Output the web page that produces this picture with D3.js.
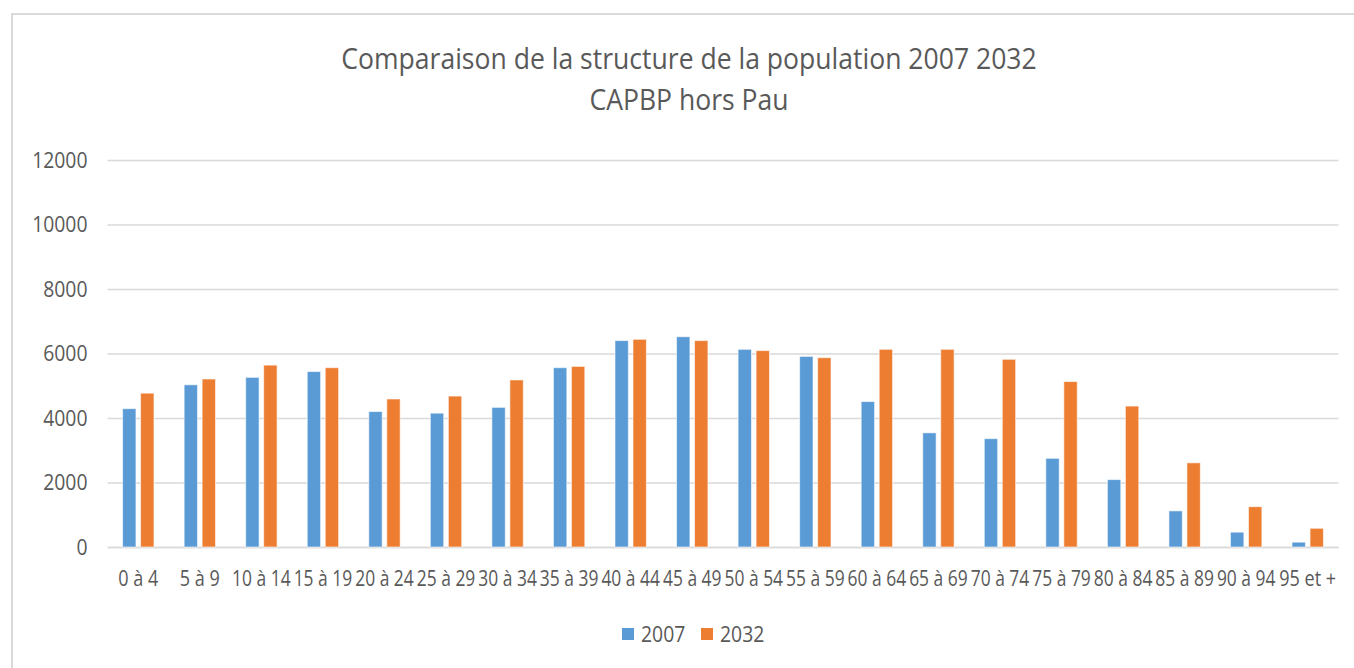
<!DOCTYPE html>
<html>
<head>
<meta charset="utf-8">
<script src="https://cdnjs.cloudflare.com/ajax/libs/d3/7.8.5/d3.min.js"></script>
<style>
    body { margin: 0; background: #fff; }
    svg text { font-family: "Open Sans", sans-serif; fill: #595959; }
</style>
</head>
<body>
<div id="chart"></div>
<script>
// tranches d'age
var categories = ["0 à 4", "5 à 9", "10 à 14", "15 à 19", "20 à 24", "25 à 29", "30 à 34",
    "35 à 39", "40 à 44", "45 à 49", "50 à 54", "55 à 59", "60 à 64", "65 à 69", "70 à 74",
    "75 à 79", "80 à 84", "85 à 89", "90 à 94", "95 et +"];
var seriesNames = ["2007", "2032"];
var values2007 = [4290, 5030, 5260, 5440, 4200, 4150, 4330, 5560, 6400, 6520,
    6130, 5910, 4510, 3540, 3360, 2750, 2090, 1120, 460, 150];
var values2032 = [4770, 5210, 5640, 5560, 4590, 4680, 5180, 5600, 6440, 6400,
    6090, 5870, 6130, 6130, 5820, 5130, 4370, 2610, 1250, 580];
var yTicks = [0, 2000, 4000, 6000, 8000, 10000, 12000];
var titleLines = ["Comparaison de la structure de la population 2007 2032", "CAPBP hors Pau"];

var width = 1354;
var height = 668;
var colors = {"2007": "#5b9bd5", "2032": "#ed7d31"};

// la police d'origine est etroite (type Calibri) : on resserre le texte
function condense(sel, f) {
    sel.each(function () {
        var w = this.getComputedTextLength() * f;
        d3.select(this)
            .attr("textLength", w)
            .attr("lengthAdjust", "spacingAndGlyphs");
    });
}

var svg = d3.select("#chart").append("svg")
    .attr("width", width)
    .attr("height", height);

// cadre du graphique (coupe a droite et en bas)
svg.append("rect")
    .attr("x", 12)
    .attr("y", 14)
    .attr("width", 1360)
    .attr("height", 680)
    .attr("fill", "#fff")
    .attr("stroke", "#d9d9d9")
    .attr("stroke-width", 2);

var plotLeft = 107.5;
var plotRight = 1338.5;
var plotTop = 160;
var plotBottom = 547;

var x0 = d3.scaleBand()
    .domain(categories)
    .range([plotLeft, plotRight])
    .paddingInner(0)
    .paddingOuter(0);

var x1 = d3.scaleBand()
    .domain(seriesNames)
    .range([-15.7, 15.7])
    .paddingInner(0.256);

var y = d3.scaleLinear()
    .domain([0, 12000])
    .range([plotBottom, plotTop]);

// titre
var title = svg.append("g").selectAll("text")
    .data(titleLines)
    .enter().append("text")
    .attr("x", 689)
    .attr("y", function (d, i) { return 69 + i * 41; })
    .attr("text-anchor", "middle")
    .style("font-size", "30px")
    .text(function (d) { return d; });
condense(title, 0.885);

// axe Y + grille
var yAxis = d3.axisLeft(y)
    .tickValues(yTicks)
    .tickSize(-(plotRight - plotLeft))
    .tickPadding(20)
    .tickFormat(d3.format("d"));

var gy = svg.append("g")
    .attr("transform", "translate(" + plotLeft + ",0)")
    .call(yAxis);
gy.select(".domain").remove();
gy.selectAll(".tick line")
    .attr("stroke", "#d9d9d9")
    .attr("stroke-width", 1.5);
gy.selectAll(".tick text")
    .attr("fill", "#595959")
    .style("font-size", "22px")
    .style("font-family", "'Open Sans', sans-serif");
condense(gy.selectAll(".tick text"), 0.88);

// axe X (les libelles se touchent presque comme dans l'original)
var xAxis = d3.axisBottom(x0).tickSize(0).tickPadding(24);
var gx = svg.append("g")
    .attr("transform", "translate(0," + plotBottom + ")")
    .call(xAxis);
gx.select(".domain").attr("stroke", "#d9d9d9").attr("stroke-width", 1.5);
gx.selectAll(".tick text")
    .attr("fill", "#595959")
    .style("font-size", "21px")
    .style("font-family", "'Open Sans', sans-serif")
    .each(function () {
        var w = this.getBBox().width;
        var f = Math.min(0.86, (x0.bandwidth() - 3) / w);
        d3.select(this).attr("transform", "scale(" + f + ",1)");
    });

// barres
var rows = categories.map(function (c, i) {
    return {cat: c, vals: [{s: "2007", v: values2007[i]}, {s: "2032", v: values2032[i]}]};
});

var groups = svg.append("g").selectAll("g")
    .data(rows)
    .enter().append("g")
    .attr("transform", function (d) {
        return "translate(" + (x0(d.cat) + x0.bandwidth() / 2) + ",0)";
    });

groups.selectAll("rect")
    .data(function (d) { return d.vals; })
    .enter().append("rect")
    .attr("x", function (d) { return x1(d.s); })
    .attr("y", function (d) { return y(d.v); })
    .attr("width", x1.bandwidth())
    .attr("height", function (d) { return y(0) - y(d.v); })
    .attr("fill", function (d) { return colors[d.s]; })
    .attr("stroke", "#fff")
    .attr("stroke-opacity", 0.6)
    .attr("stroke-width", 1);

// legende
var legend = svg.append("g").attr("transform", "translate(622,634)");
var legendX = [0, 79];
var items = legend.selectAll("g")
    .data(seriesNames)
    .enter().append("g")
    .attr("transform", function (d, i) { return "translate(" + legendX[i] + ",0)"; });
items.append("rect")
    .attr("x", 0)
    .attr("y", -6)
    .attr("width", 12)
    .attr("height", 12)
    .attr("fill", function (d) { return colors[d]; });
var legendText = items.append("text")
    .attr("x", 19)
    .attr("y", 8)
    .style("font-size", "22px")
    .text(function (d) { return d; });
condense(legendText, 0.88);
</script>
</body>
</html>
